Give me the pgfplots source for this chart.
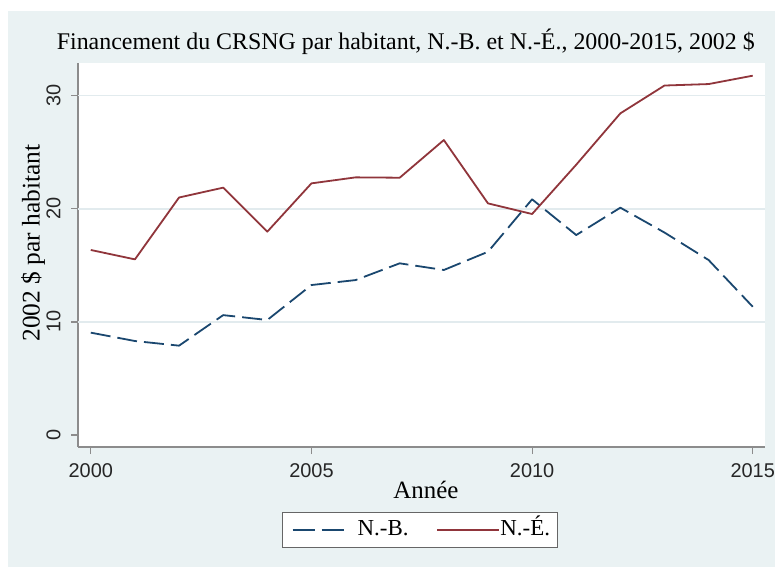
\documentclass[border=0pt]{standalone}
\usepackage{pgfplots}
\pgfplotsset{compat=1.18}
\usepackage{fontspec}
\setmainfont{Liberation Serif}
\setsansfont{Liberation Sans}
\definecolor{bgc}{RGB}{234,242,243}
\definecolor{gridc}{RGB}{226,235,238}
\definecolor{navyc}{RGB}{26,71,111}
\definecolor{maroonc}{RGB}{144,53,59}
\pgfplotsset{
  nbleg/.style={legend image code/.code={\path[draw=none,fill=none] (-3bp,0bp) -- (65bp,0bp);\draw[##1, dash pattern=on 22bp off 7bp] (0bp,0bp) -- (51bp,0bp);}},
  neleg/.style={legend image code/.code={\draw[##1] (0bp,0bp) -- (62bp,0bp);}},
}
\begin{document}
\begin{tikzpicture}
\useasboundingbox (0,0) rectangle (775bp,567bp);
\fill[white] (0,0) rectangle (775bp,567bp);
\fill[bgc] (8bp,0) rectangle (775bp,556bp);
\begin{axis}[
  at={(78bp,120bp)}, anchor=south west,
  x=44.13bp, y=11.31bp,
  xmin=1999.71, xmax=2015.27, ymin=-1.06, ymax=32.9,
  axis background/.style={fill=white},
  axis x line*=bottom, axis y line*=left,
  axis line style={black!45, line width=1.2bp},
  xtick={2000,2005,2010,2015}, ytick={0,10,20,30},
  tick align=outside, major tick length=7bp,
  tick style={black!45, line width=1.2bp},
  extra y ticks={10,20,30}, extra y tick labels={},
  extra y tick style={grid=major, major grid style={gridc, line width=1.5bp}, major tick length=0pt},
  /pgf/number format/1000 sep={},
  /pgf/number format/assume math mode=true,
  xticklabel style={font=\sffamily\fontsize{20}{20}\selectfont, text=black!85, yshift=-6bp},
  yticklabel style={font=\sffamily\fontsize{20}{20}\selectfont, text=black!85, rotate=90, anchor=south, yshift=7bp},
  title={Financement du CRSNG par habitant, N.-B. et N.-É., 2000-2015, 2002 \$},
  every axis title/.style={at={(0.4774,1.0547)}, anchor=center, font=\fontsize{24}{24}\selectfont},
  xlabel={Année},
  every axis x label/.style={at={(0.5066,-0.112)}, anchor=center, font=\fontsize{25}{25}\selectfont},
  ylabel={2002 \$ par habitant},
  every axis y label/.style={at={(-0.0655,0.531)}, anchor=center, rotate=90, font=\fontsize{25.5}{25.5}\selectfont},
  legend columns=2,
  legend style={at={(0.4978,-0.216)}, anchor=center, draw=black!60, line width=1bp, fill=white,
    font=\fontsize{23}{23}\selectfont, inner xsep=7bp, inner ysep=4.5bp,
    nodes={inner xsep=0pt, inner ysep=2bp, text height=17bp, text depth=5bp},
    /tikz/every even column/.append style={column sep=28bp}},
]
\addplot[navyc, line width=1.8bp, dash pattern=on 20bp off 7bp, line join=round, nbleg]
  coordinates {(2000,9.05) (2001,8.31) (2002,7.9) (2003,10.6) (2004,10.17) (2005,13.26) (2006,13.7) (2007,15.18) (2008,14.59) (2009,16.2) (2010,20.84) (2011,17.68) (2012,20.1) (2013,17.9) (2014,15.47) (2015,11.34)};
\addlegendentry{N.-B.}
\addplot[maroonc, line width=1.8bp, line join=round, neleg]
  coordinates {(2000,16.36) (2001,15.53) (2002,21.0) (2003,21.87) (2004,17.98) (2005,22.25) (2006,22.78) (2007,22.75) (2008,26.08) (2009,20.48) (2010,19.54) (2011,23.9) (2012,28.44) (2013,30.9) (2014,31.03) (2015,31.77)};
\addlegendentry{N.-É.}
\end{axis}
\end{tikzpicture}
\end{document}
